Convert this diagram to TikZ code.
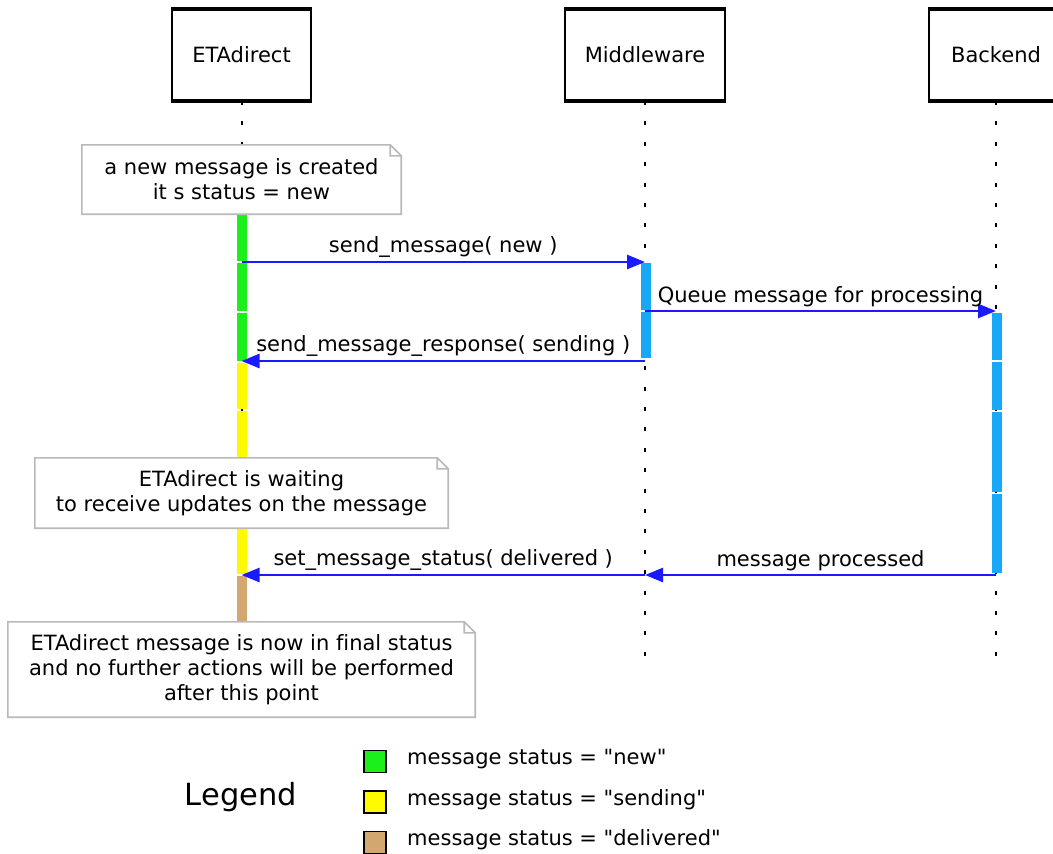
\documentclass[tikz,border=0pt]{standalone}
\usepackage{fontspec}
\setmainfont[Ligatures=NoCommon]{DejaVu Sans}
\usetikzlibrary{arrows.meta}

\definecolor{msgblue}{RGB}{26,26,255}
\definecolor{barblue}{RGB}{24,168,248}
\definecolor{statenew}{RGB}{28,240,28}
\definecolor{statesending}{RGB}{255,250,0}
\definecolor{statedelivered}{RGB}{210,167,112}
\definecolor{notegray}{RGB}{185,185,185}

\begin{document}
\begin{tikzpicture}[x=1pt,y=-1pt,font=\fontsize{21}{25}\selectfont,
    participant/.style={draw,line width=2pt,minimum height=90pt,fill=white},
    lifeline/.style={line width=2pt,dash pattern=on 4pt off 16.4pt},
    note/.style={fill=white,align=center,inner sep=0pt},
    note line/.style={draw=notegray,line width=1.6pt,line join=miter},
    bar/.style={line width=10pt},
    arrow/.style={-{Triangle[length=18pt,width=14pt]},msgblue,line width=2.6pt},
    msg label/.style={above,inner sep=3pt,text=black},
    legend box/.style={draw,line width=1.2pt,minimum size=22pt,inner sep=0pt},
    legend text/.style={anchor=west,inner sep=0pt}]
  \useasboundingbox (0,0) rectangle (1053,854);

  % participants
  \node[participant,minimum width=139pt] (etadirect) at (241.5,55) {ETAdirect};
  \node[participant,minimum width=160pt] (middleware) at (645,55) {Middleware};
  \node[participant,minimum width=134pt] (backend) at (996,55) {Backend};
  \foreach \p in {etadirect,middleware,backend}
    \draw[line width=3.5pt] (\p.north west) -- (\p.north east) (\p.south west) -- (\p.south east);

  \coordinate (etadirect end) at (241.5,660);
  \coordinate (middleware end) at (645,662);
  \coordinate (backend end) at (996,662);
  \draw[lifeline] (etadirect.south) -- (etadirect end);
  \draw[lifeline] (middleware.south) -- (middleware end);
  \draw[lifeline] (backend.south) -- (backend end);

  % activation bars
  \foreach \a/\b/\c in {214/261/statenew,263/311/statenew,313/361/statenew,
      363/409/statesending,411/460/statesending,526/574/statesending,576/624/statedelivered}
    \draw[bar,\c] (241.5,\a) -- (241.5,\b);
  \foreach \a/\b in {263/310,312/358}
    \draw[bar,barblue] (646,\a) -- (646,\b);
  \foreach \a/\b in {313/360,362/410,412/492,494/573}
    \draw[bar,barblue] (996.5,\a) -- (996.5,\b);

  % notes
  \node[note,minimum width=319pt,minimum height=69pt] (note new) at (241.5,179.5)
    {a new message is created\\it s status = new};
  \node[note,minimum width=413pt,minimum height=70pt] (note waiting) at (241.5,493)
    {ETAdirect is waiting\\to receive updates on the message};
  \node[note,minimum width=467pt,minimum height=95pt] (note final) at (241.5,669.5)
    {ETAdirect message is now in final status\\and no further actions will be performed\\after this point};
  \foreach \n in {note new,note waiting,note final}
    \draw[note line] (\n.north west) -- ([xshift=-11pt]\n.north east) -- ([yshift=-11pt]\n.north east)
      -- (\n.south east) -- (\n.south west) -- cycle
      ([xshift=-11pt]\n.north east) |- ([yshift=-11pt]\n.north east);

  % messages
  \coordinate (eta send) at (241.5,262);
  \coordinate (mw send) at (645,262);
  \coordinate (mw queue) at (645,311);
  \coordinate (be queue) at (996,311);
  \coordinate (mw response) at (645,361);
  \coordinate (eta response) at (241.5,361);
  \coordinate (be done) at (996,575);
  \coordinate (mw done) at (645,575);
  \coordinate (eta done) at (241.5,575);

  \draw[arrow] (eta send) -- node[msg label] {send\_message( new )} (mw send);
  \draw[arrow] (mw queue) -- node[msg label] {Queue message for processing} (be queue);
  \draw[arrow] (mw response) -- node[msg label] {send\_message\_response( sending )} (eta response);
  \draw[arrow] (be done) -- node[msg label] {message processed} (mw done);
  \draw[arrow] (mw done) -- node[msg label] {set\_message\_status( delivered )} (eta done);

  % legend
  \node[font=\fontsize{30.5}{35}\selectfont] (legend) at (241,797) {Legend};
  \node[legend box,fill=statenew] (key new) at (375,761.5) {};
  \node[legend box,fill=statesending] (key sending) at (375,802) {};
  \node[legend box,fill=statedelivered] (key delivered) at (375,842.5) {};
  \node[legend text] (text new) at (407,759) {message status = \textquotedbl new\textquotedbl};
  \node[legend text] (text sending) at (407,800) {message status = \textquotedbl sending\textquotedbl};
  \node[legend text] (text delivered) at (407,840) {message status = \textquotedbl delivered\textquotedbl};
\end{tikzpicture}
\end{document}
